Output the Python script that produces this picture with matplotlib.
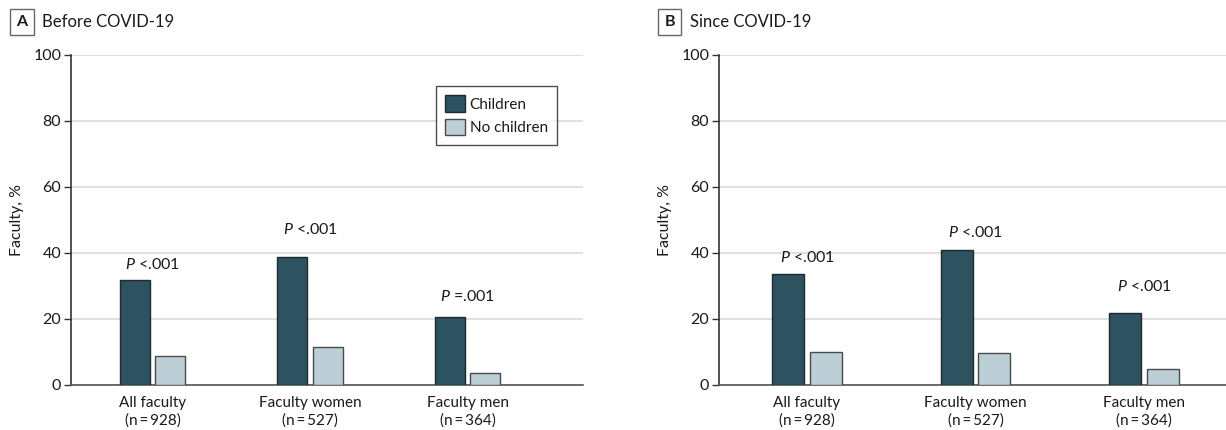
import matplotlib
matplotlib.use("Agg")
import matplotlib.pyplot as plt
from matplotlib.patches import Patch
import numpy as np

plt.rcParams['font.family'] = ["Lato", "DejaVu Sans"]
plt.rcParams['mathtext.fontset'] = 'custom'
plt.rcParams['mathtext.it'] = 'Lato:italic'
plt.rcParams['mathtext.rm'] = 'Lato'

categories = ["All faculty\n(n\u2009=\u2009928)", "Faculty women\n(n\u2009=\u2009527)", "Faculty men\n(n\u2009=\u2009364)"]
before_children = [31.8, 38.7, 20.7]
before_nochildren = [8.7, 11.6, 3.6]
since_children = [33.6, 40.9, 21.8]
since_nochildren = [10.1, 9.8, 4.8]
before_p = ["<.001", "<.001", "=.001"]
since_p = ["<.001", "<.001", "<.001"]
before_p_y = [36.4, 47.0, 26.7]
since_p_y = [38.5, 46.2, 29.8]

C_DARK = "#2d5360"
C_LIGHT = "#bccfd7"
TXT = "#1a1a1a"

fig = plt.figure(figsize=(12.26, 4.3), dpi=100)
axA = fig.add_axes([71/1226, 1-385/430, 512/1226, 330/430])
axB = fig.add_axes([719/1226, 1-385/430, 507/1226, 330/430])

def draw(ax, ch, noch, ps, py, xlim):
    x = np.arange(len(categories))
    w = 0.19
    off = 0.112
    ax.bar(x - off, ch, w, color=C_DARK, edgecolor="#1e2a2e", linewidth=1.0, zorder=3)
    ax.bar(x + off, noch, w, color=C_LIGHT, edgecolor="#4a4a4a", linewidth=1.0, zorder=3)
    for xi, p, yy in zip(x, ps, py):
        ax.text(xi, yy, "$\\it{P}$ " + p, ha="center", va="center", fontsize=11.5, color=TXT)
    ax.set_ylim(0, 100)
    ax.set_xlim(*xlim)
    ax.set_yticks([0, 20, 40, 60, 80, 100])
    ax.set_xticks(x)
    ax.set_xticklabels(categories, fontsize=11, linespacing=1.25, color=TXT)
    ax.tick_params(axis="y", labelsize=11.5, length=5, width=1, color="#333333", labelcolor=TXT, pad=2)
    ax.tick_params(axis="x", length=0, pad=8)
    ax.grid(axis="y", color="#dddddd", linewidth=1.3, zorder=0)
    ax.set_axisbelow(True)
    for s in ["top", "right"]:
        ax.spines[s].set_visible(False)
    ax.spines["left"].set_color("#333333")
    ax.spines["bottom"].set_color("#555555")
    ax.spines["left"].set_linewidth(1.2)
    ax.spines["bottom"].set_linewidth(1.2)
    ax.set_ylabel("Faculty, %", fontsize=11.5, color=TXT, labelpad=7)

draw(axA, before_children, before_nochildren, before_p, before_p_y, (-0.517, 2.733))
draw(axB, since_children, since_nochildren, since_p, since_p_y, (-0.522, 2.487))

handles = [Patch(facecolor=C_DARK, edgecolor="#1e2a2e", label="Children"),
           Patch(facecolor=C_LIGHT, edgecolor="#4a4a4a", label="No children")]
leg = axA.legend(handles=handles, loc="upper left", bbox_to_anchor=((436-71)/512, (385-86)/330),
                 frameon=True, fancybox=False, fontsize=11, handlelength=1.3, handleheight=1.3,
                 handletextpad=0.3, labelspacing=0.45, borderpad=0.6, borderaxespad=0)
leg.get_frame().set_edgecolor("#222222")
leg.get_frame().set_linewidth(1.0)
for t in leg.get_texts():
    t.set_color(TXT)

for bx, tx, letter, title in [(11, 42, "A", "Before COVID-19"), (659, 690, "B", "Since COVID-19")]:
    fig.text(bx/1226 + 0.0088, 1-22/430, letter, ha="center", va="center", fontsize=11.5, fontweight="bold",
             color=TXT,
             bbox=dict(boxstyle="square,pad=0.4", facecolor="white", edgecolor="#666666", linewidth=1))
    fig.text(tx/1226, 1-22/430, title, ha="left", va="center", fontsize=12, color=TXT)

fig.savefig("out.png", dpi=100)
